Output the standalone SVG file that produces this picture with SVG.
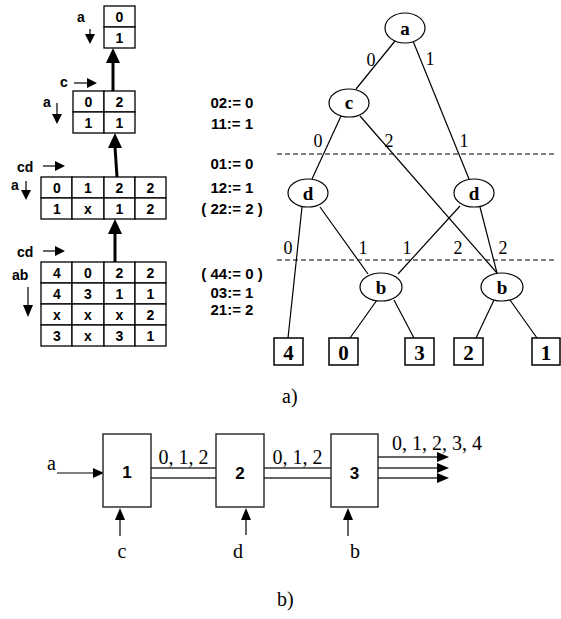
<svg xmlns="http://www.w3.org/2000/svg" width="561" height="619" viewBox="0 0 561 619">
<style>
.bg{fill:#fff}
.cell{fill:#fff;stroke:#000;stroke-width:1.3}
.tt{font-family:"Liberation Sans",Arial,sans-serif;font-weight:bold;font-size:14px;text-anchor:middle;fill:#000}
.rt{font-family:"Liberation Sans",Arial,sans-serif;font-weight:bold;font-size:15px;text-anchor:middle;fill:#000}
.lt{font-family:"Liberation Sans",Arial,sans-serif;font-weight:bold;font-size:14px;fill:#000}
.ln{stroke:#000;stroke-width:1.2;fill:none}
.thick{stroke:#000;stroke-width:3;fill:none}
.head{fill:#000}
.node{fill:#fff;stroke:#000;stroke-width:1.2}
.nt{font-family:"Liberation Serif","Times New Roman",serif;font-weight:bold;font-size:19px;text-anchor:middle;fill:#000}
.lf{font-family:"Liberation Serif","Times New Roman",serif;font-weight:bold;font-size:21px;text-anchor:middle;fill:#000}
.el{font-family:"Liberation Serif","Times New Roman",serif;font-size:18px;text-anchor:middle;fill:#000}
.dash{stroke:#000;stroke-width:1.2;stroke-dasharray:5,3;fill:none}
.leaf{fill:#fff;stroke:#000;stroke-width:1.5}
.blk{fill:#fff;stroke:#222;stroke-width:1.4}
.bt{font-family:"Liberation Sans",Arial,sans-serif;font-weight:bold;font-size:17px;text-anchor:middle;fill:#000}
.wire{stroke:#333;stroke-width:1.4;fill:none}
.st{font-family:"Liberation Serif","Times New Roman",serif;font-size:20px;fill:#000}
</style>
<rect class="bg" x="0" y="0" width="561" height="619"/>

<!-- Left: tables -->
<g id="table1">
  <rect class="cell" x="104" y="6" width="31" height="21"/>
  <rect class="cell" x="104" y="27" width="31" height="21"/>
  <text class="tt" x="119.5" y="22">0</text>
  <text class="tt" x="119.5" y="43">1</text>
  <text class="lt" x="77" y="22">a</text>
  <line class="ln" x1="90" y1="29" x2="90" y2="35"/>
  <polygon class="head" points="85,34 95,34 90,44"/>
</g>
<g id="table2">
  <rect class="cell" x="73" y="91" width="31" height="21"/>
  <rect class="cell" x="104" y="91" width="31" height="21"/>
  <rect class="cell" x="73" y="112" width="31" height="21"/>
  <rect class="cell" x="104" y="112" width="31" height="21"/>
  <text class="tt" x="88.5" y="107">0</text>
  <text class="tt" x="119.5" y="107">2</text>
  <text class="tt" x="88.5" y="128">1</text>
  <text class="tt" x="119.5" y="128">1</text>
  <text class="lt" x="60" y="87">c</text>
  <line class="ln" x1="74" y1="83" x2="88" y2="83"/>
  <polygon class="head" points="87,78 97,83 87,88"/>
  <text class="lt" x="43" y="107">a</text>
  <line class="ln" x1="57" y1="103" x2="57" y2="115"/>
  <polygon class="head" points="52,114 62,114 57,124"/>
</g>
<g id="table3">
  <rect class="cell" x="41" y="177" width="31" height="21"/>
  <rect class="cell" x="72" y="177" width="32" height="21"/>
  <rect class="cell" x="104" y="177" width="31" height="21"/>
  <rect class="cell" x="135" y="177" width="31" height="21"/>
  <rect class="cell" x="41" y="198" width="31" height="21"/>
  <rect class="cell" x="72" y="198" width="32" height="21"/>
  <rect class="cell" x="104" y="198" width="31" height="21"/>
  <rect class="cell" x="135" y="198" width="31" height="21"/>
  <text class="tt" x="57" y="193">0</text>
  <text class="tt" x="88" y="193">1</text>
  <text class="tt" x="119.5" y="193">2</text>
  <text class="tt" x="150.5" y="193">2</text>
  <text class="tt" x="57" y="214">1</text>
  <text class="tt" x="88" y="214">x</text>
  <text class="tt" x="119.5" y="214">1</text>
  <text class="tt" x="150.5" y="214">2</text>
  <text class="lt" x="17" y="172">cd</text>
  <line class="ln" x1="43" y1="166" x2="56" y2="166"/>
  <polygon class="head" points="55,161 65,166 55,171"/>
  <text class="lt" x="11" y="190">a</text>
  <line class="ln" x1="26" y1="181" x2="26" y2="191"/>
  <polygon class="head" points="21,190 31,190 26,200"/>
</g>
<g id="table4">
  <rect class="cell" x="41" y="262" width="31" height="21"/>
  <rect class="cell" x="72" y="262" width="32" height="21"/>
  <rect class="cell" x="104" y="262" width="31" height="21"/>
  <rect class="cell" x="135" y="262" width="31" height="21"/>
  <rect class="cell" x="41" y="283" width="31" height="21"/>
  <rect class="cell" x="72" y="283" width="32" height="21"/>
  <rect class="cell" x="104" y="283" width="31" height="21"/>
  <rect class="cell" x="135" y="283" width="31" height="21"/>
  <rect class="cell" x="41" y="304" width="31" height="21"/>
  <rect class="cell" x="72" y="304" width="32" height="21"/>
  <rect class="cell" x="104" y="304" width="31" height="21"/>
  <rect class="cell" x="135" y="304" width="31" height="21"/>
  <rect class="cell" x="41" y="325" width="31" height="21"/>
  <rect class="cell" x="72" y="325" width="32" height="21"/>
  <rect class="cell" x="104" y="325" width="31" height="21"/>
  <rect class="cell" x="135" y="325" width="31" height="21"/>
  <text class="tt" x="57" y="278">4</text>
  <text class="tt" x="88" y="278">0</text>
  <text class="tt" x="119.5" y="278">2</text>
  <text class="tt" x="150.5" y="278">2</text>
  <text class="tt" x="57" y="299">4</text>
  <text class="tt" x="88" y="299">3</text>
  <text class="tt" x="119.5" y="299">1</text>
  <text class="tt" x="150.5" y="299">1</text>
  <text class="tt" x="57" y="320">x</text>
  <text class="tt" x="88" y="320">x</text>
  <text class="tt" x="119.5" y="320">x</text>
  <text class="tt" x="150.5" y="320">2</text>
  <text class="tt" x="57" y="341">3</text>
  <text class="tt" x="88" y="341">x</text>
  <text class="tt" x="119.5" y="341">3</text>
  <text class="tt" x="150.5" y="341">1</text>
  <text class="lt" x="17" y="257">cd</text>
  <line class="ln" x1="43" y1="251" x2="56" y2="251"/>
  <polygon class="head" points="55,246 65,251 55,256"/>
  <text class="lt" x="12" y="280">ab</text>
  <line class="ln" x1="28" y1="287" x2="28" y2="306"/>
  <polygon class="head" points="23,305 33,305 28,317"/>
</g>

<g id="table-arrows">
  <line class="thick" x1="113" y1="91" x2="113" y2="62"/>
  <polygon class="head" points="106,63 120,63 113,48"/>
  <line class="thick" x1="117" y1="177" x2="115" y2="147"/>
  <polygon class="head" points="108,148 122,148 115,133"/>
  <line class="thick" x1="115" y1="262" x2="115" y2="233"/>
  <polygon class="head" points="108,234 122,234 115,219"/>
</g>

<g id="rules">
  <text class="rt" x="232" y="108">02:= 0</text>
  <text class="rt" x="232" y="129">11:= 1</text>
  <text class="rt" x="232" y="169">01:= 0</text>
  <text class="rt" x="232" y="193">12:= 1</text>
  <text class="rt" x="232" y="214">( 22:= 2 )</text>
  <text class="rt" x="232" y="279">( 44:= 0 )</text>
  <text class="rt" x="232" y="298">03:= 1</text>
  <text class="rt" x="232" y="315">21:= 2</text>
</g>

<!-- Tree connectors -->
<g id="connectors">
  <line class="dash" x1="277" y1="154" x2="556" y2="154"/>
  <line class="dash" x1="277" y1="260" x2="556" y2="260"/>
  <line class="ln" x1="395" y1="41" x2="356" y2="89"/>
  <line class="ln" x1="413" y1="41" x2="469" y2="179"/>
  <line class="ln" x1="341" y1="116" x2="312" y2="179"/>
  <line class="ln" x1="360" y1="116" x2="497" y2="273"/>
  <line class="ln" x1="302" y1="207" x2="288" y2="338"/>
  <line class="ln" x1="320" y1="207" x2="368" y2="274"/>
  <line class="ln" x1="460" y1="206" x2="398" y2="274"/>
  <line class="ln" x1="480" y1="207" x2="497" y2="273"/>
  <line class="ln" x1="377" y1="300" x2="350" y2="338"/>
  <line class="ln" x1="394" y1="300" x2="414" y2="338"/>
  <line class="ln" x1="494" y1="300" x2="476" y2="338"/>
  <line class="ln" x1="510" y1="300" x2="537" y2="338"/>
  <text class="el" x="371" y="66">0</text>
  <text class="el" x="430" y="65">1</text>
  <text class="el" x="318" y="147">0</text>
  <text class="el" x="389" y="147">2</text>
  <text class="el" x="464" y="147">1</text>
  <text class="el" x="288" y="254">0</text>
  <text class="el" x="363" y="254">1</text>
  <text class="el" x="407" y="254">1</text>
  <text class="el" x="458" y="254">2</text>
  <text class="el" x="503" y="254">2</text>
</g>

<g id="node-a"><ellipse class="node" cx="405" cy="28" rx="20" ry="15"/><text class="nt" x="405" y="35">a</text></g>
<g id="node-c"><ellipse class="node" cx="349" cy="103" rx="20" ry="14"/><text class="nt" x="349" y="109">c</text></g>
<g id="node-d1"><ellipse class="node" cx="308" cy="193" rx="20" ry="14"/><text class="nt" x="308" y="200">d</text></g>
<g id="node-d2"><ellipse class="node" cx="474" cy="193" rx="20" ry="14"/><text class="nt" x="474" y="200">d</text></g>
<g id="node-b1"><ellipse class="node" cx="381" cy="287" rx="21" ry="14"/><text class="nt" x="381" y="294">b</text></g>
<g id="node-b2"><ellipse class="node" cx="502" cy="287" rx="21" ry="14"/><text class="nt" x="502" y="294">b</text></g>
<g id="leaf-4"><rect class="leaf" x="274" y="338" width="29" height="27"/><text class="lf" x="288.5" y="360">4</text></g>
<g id="leaf-0"><rect class="leaf" x="329" y="338" width="29" height="27"/><text class="lf" x="343.5" y="360">0</text></g>
<g id="leaf-3"><rect class="leaf" x="405" y="338" width="29" height="27"/><text class="lf" x="419.5" y="360">3</text></g>
<g id="leaf-2"><rect class="leaf" x="454" y="338" width="29" height="27"/><text class="lf" x="468.5" y="360">2</text></g>
<g id="leaf-1"><rect class="leaf" x="532" y="338" width="28" height="27"/><text class="lf" x="546" y="360">1</text></g>

<text class="st" x="282" y="403" font-size="19">a)</text>

<!-- Part b -->
<g id="wires">
  <line class="wire" x1="151" y1="468" x2="216" y2="468"/>
  <line class="wire" x1="151" y1="478" x2="216" y2="478"/>
  <line class="wire" x1="264" y1="468" x2="331" y2="468"/>
  <line class="wire" x1="264" y1="478" x2="331" y2="478"/>
  <text class="st" x="183.5" y="464" text-anchor="middle">0, 1, 2</text>
  <text class="st" x="297.5" y="464" text-anchor="middle">0, 1, 2</text>
  <line class="wire" x1="378" y1="457" x2="438" y2="457"/>
  <line class="wire" x1="378" y1="468" x2="438" y2="468"/>
  <line class="wire" x1="378" y1="478" x2="438" y2="478"/>
  <polygon class="head" points="437,452 449,457 437,462"/>
  <polygon class="head" points="437,463 449,468 437,473"/>
  <polygon class="head" points="437,473 449,478 437,483"/>
  <text class="st" x="392" y="450">0, 1, 2, 3, 4</text>
  <text class="st" x="47" y="470">a</text>
  <line class="ln" x1="57" y1="473" x2="94" y2="473"/>
  <polygon class="head" points="93,468 104,473 93,478"/>
  <line class="ln" x1="120" y1="536" x2="120" y2="519"/>
  <polygon class="head" points="115,520 125,520 120,508"/>
  <line class="ln" x1="246" y1="535" x2="246" y2="519"/>
  <polygon class="head" points="241,520 251,520 246,508"/>
  <line class="ln" x1="348" y1="536" x2="348" y2="519"/>
  <polygon class="head" points="343,520 353,520 348,508"/>
  <text class="st" x="122" y="558" text-anchor="middle">c</text>
  <text class="st" x="238" y="558" text-anchor="middle">d</text>
  <text class="st" x="355" y="558" text-anchor="middle">b</text>
</g>
<g id="block-1"><rect class="blk" x="103" y="434" width="48" height="73"/><text class="bt" x="127" y="478">1</text></g>
<g id="block-2"><rect class="blk" x="216" y="434" width="48" height="73"/><text class="bt" x="240" y="479">2</text></g>
<g id="block-3"><rect class="blk" x="331" y="434" width="47" height="73"/><text class="bt" x="354.5" y="479">3</text></g>

<text class="st" x="277" y="606" font-size="19">b)</text>
</svg>
